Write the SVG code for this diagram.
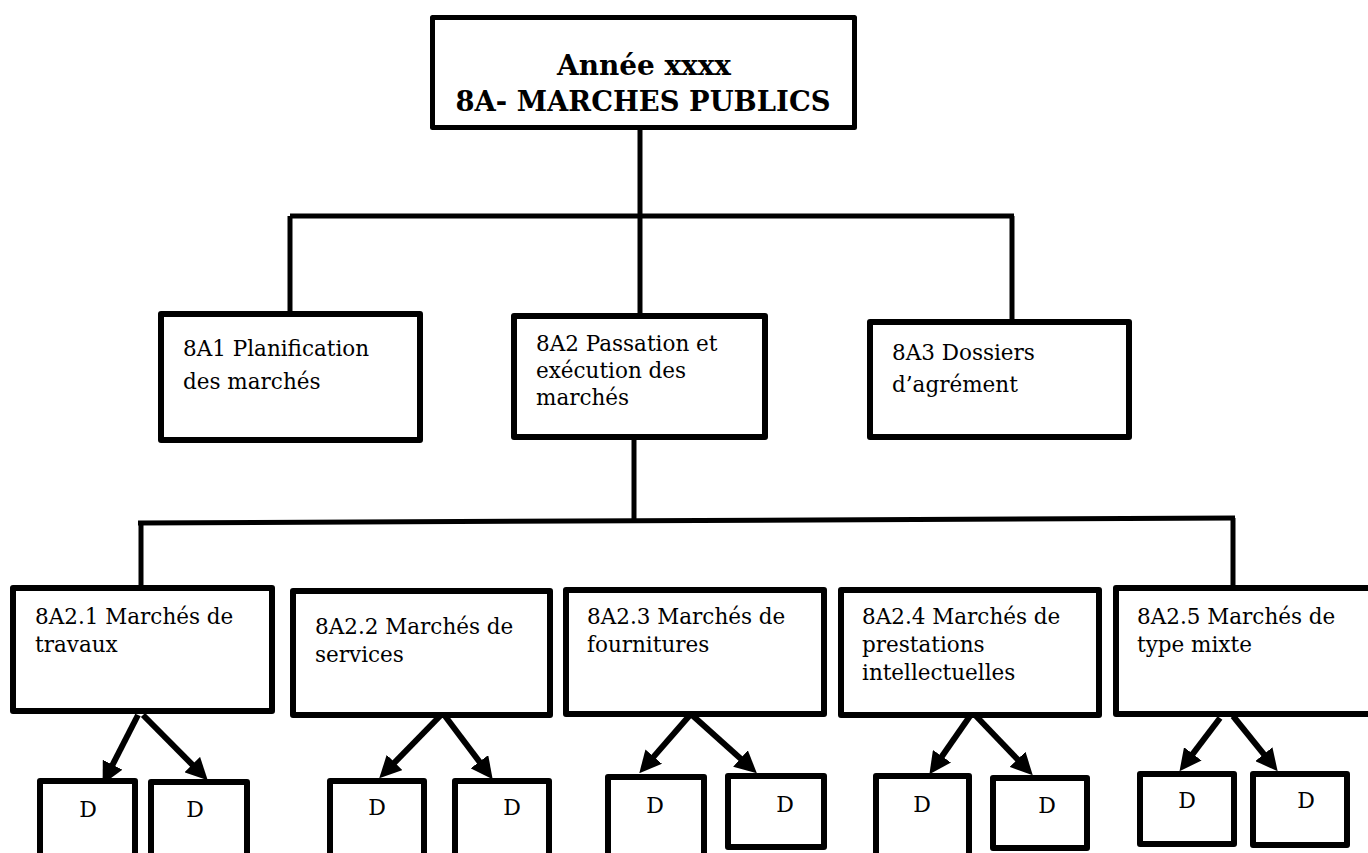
<svg xmlns="http://www.w3.org/2000/svg" width="1368" height="853" viewBox="0 0 1368 853">
<style>
.box{fill:#fff;stroke:#000;stroke-width:6;stroke-linejoin:round}
.top{fill:#fff;stroke:#000;stroke-width:5;stroke-linejoin:round}
.ln{fill:none;stroke:#000;stroke-width:5}
.ar{fill:none;stroke:#000;stroke-width:6}
.t{font-family:"DejaVu Serif","Liberation Serif",serif;font-size:21.5px;fill:#000}
.tb{font-family:"DejaVu Serif","Liberation Serif",serif;font-size:28px;font-weight:bold;fill:#000;text-anchor:middle}
.d{font-family:"DejaVu Serif","Liberation Serif",serif;font-size:22px;fill:#000;text-anchor:middle}
</style>
<defs>
<marker id="ah" markerUnits="userSpaceOnUse" markerWidth="22" markerHeight="22" viewBox="0 0 20 20" refX="6" refY="10" orient="auto">
<path d="M0,0 L20,10 L0,20 z" fill="#000"/>
</marker>
</defs>
<rect width="1368" height="853" fill="#fff"/>
<g id="connectors">
<line class="ln" x1="640" y1="128" x2="640" y2="216"/>
<line class="ln" x1="290" y1="216" x2="1014" y2="216" stroke-width="6"/>
<line class="ln" x1="290" y1="216" x2="290" y2="312"/>
<line class="ln" x1="640" y1="216" x2="640" y2="314"/>
<line class="ln" x1="1012" y1="216" x2="1012" y2="320"/>
<line class="ln" x1="634" y1="438" x2="634" y2="520"/>
<line class="ln" x1="138" y1="523" x2="1235" y2="518" stroke-width="6"/>
<line class="ln" x1="141" y1="523" x2="141" y2="586"/>
<line class="ln" x1="1233" y1="518" x2="1233" y2="586"/>
<line class="ar" x1="138" y1="715" x2="109.6" y2="770.6" marker-end="url(#ah)"/>
<line class="ar" x1="143" y1="715" x2="196.9" y2="769.3" marker-end="url(#ah)"/>
<line class="ar" x1="440" y1="716" x2="390" y2="767.2" marker-end="url(#ah)"/>
<line class="ar" x1="445" y1="716" x2="483.4" y2="767" marker-end="url(#ah)"/>
<line class="ar" x1="690" y1="715" x2="649.4" y2="761.6" marker-end="url(#ah)"/>
<line class="ar" x1="692" y1="715" x2="745.4" y2="762.9" marker-end="url(#ah)"/>
<line class="ar" x1="970" y1="716" x2="938.2" y2="761.7" marker-end="url(#ah)"/>
<line class="ar" x1="976" y1="716" x2="1022.1" y2="764.1" marker-end="url(#ah)"/>
<line class="ar" x1="1220" y1="718" x2="1188.8" y2="759.1" marker-end="url(#ah)"/>
<line class="ar" x1="1233" y1="716" x2="1268" y2="759.3" marker-end="url(#ah)"/>
</g>
<g id="root">
<rect class="top" x="432.5" y="17.5" width="422" height="110"/>
<text class="tb" x="644" y="75" textLength="174" lengthAdjust="spacingAndGlyphs">Année xxxx</text>
<text class="tb" x="643" y="111" textLength="375" lengthAdjust="spacingAndGlyphs">8A- MARCHES PUBLICS</text>
</g>
<g id="n8A1">
<rect class="box" x="161" y="314" width="259" height="126"/>
<text class="t" x="183" y="356">8A1 Planification</text>
<text class="t" x="183" y="389">des marchés</text>
</g>
<g id="n8A2">
<rect class="box" x="514" y="316" width="251" height="121"/>
<text class="t" x="536" y="351">8A2 Passation et</text>
<text class="t" x="536" y="378">exécution des</text>
<text class="t" x="536" y="405">marchés</text>
</g>
<g id="n8A3">
<rect class="box" x="870" y="322" width="259" height="115"/>
<text class="t" x="892" y="360">8A3 Dossiers</text>
<text class="t" x="892" y="392">d’agrément</text>
</g>
<g id="n8A2_1">
<rect class="box" x="13" y="588" width="259" height="123"/>
<text class="t" x="35" y="624">8A2.1 Marchés de</text>
<text class="t" x="35" y="652">travaux</text>
</g>
<g id="n8A2_2">
<rect class="box" x="293" y="591" width="257" height="124"/>
<text class="t" x="315" y="634">8A2.2 Marchés de</text>
<text class="t" x="315" y="662">services</text>
</g>
<g id="n8A2_3">
<rect class="box" x="566" y="590" width="258" height="124"/>
<text class="t" x="587" y="624">8A2.3 Marchés de</text>
<text class="t" x="587" y="652">fournitures</text>
</g>
<g id="n8A2_4">
<rect class="box" x="841" y="590" width="258" height="125"/>
<text class="t" x="862" y="624">8A2.4 Marchés de</text>
<text class="t" x="862" y="652">prestations</text>
<text class="t" x="862" y="680">intellectuelles</text>
</g>
<g id="n8A2_5">
<rect class="box" x="1116" y="588" width="270" height="126"/>
<text class="t" x="1137" y="624">8A2.5 Marchés de</text>
<text class="t" x="1137" y="652">type mixte</text>
</g>
<g id="d1a"><rect class="box" x="40" y="781" width="95" height="90"/><text class="d" x="88" y="817">D</text></g>
<g id="d1b"><rect class="box" x="151" y="782" width="96" height="90"/><text class="d" x="195" y="817">D</text></g>
<g id="d2a"><rect class="box" x="330" y="781" width="94" height="90"/><text class="d" x="377" y="815">D</text></g>
<g id="d2b"><rect class="box" x="455" y="781" width="94" height="90"/><text class="d" x="512" y="815">D</text></g>
<g id="d3a"><rect class="box" x="608" y="777" width="96" height="90"/><text class="d" x="655" y="813">D</text></g>
<g id="d3b"><rect class="box" x="728" y="776" width="96" height="71"/><text class="d" x="785" y="812">D</text></g>
<g id="d4a"><rect class="box" x="876" y="776" width="93" height="90"/><text class="d" x="922" y="812">D</text></g>
<g id="d4b"><rect class="box" x="993" y="778" width="94" height="70"/><text class="d" x="1047" y="813">D</text></g>
<g id="d5a"><rect class="box" x="1140" y="774" width="94" height="70"/><text class="d" x="1187" y="808">D</text></g>
<g id="d5b"><rect class="box" x="1253" y="774" width="94" height="71"/><text class="d" x="1306" y="808">D</text></g>
</svg>
